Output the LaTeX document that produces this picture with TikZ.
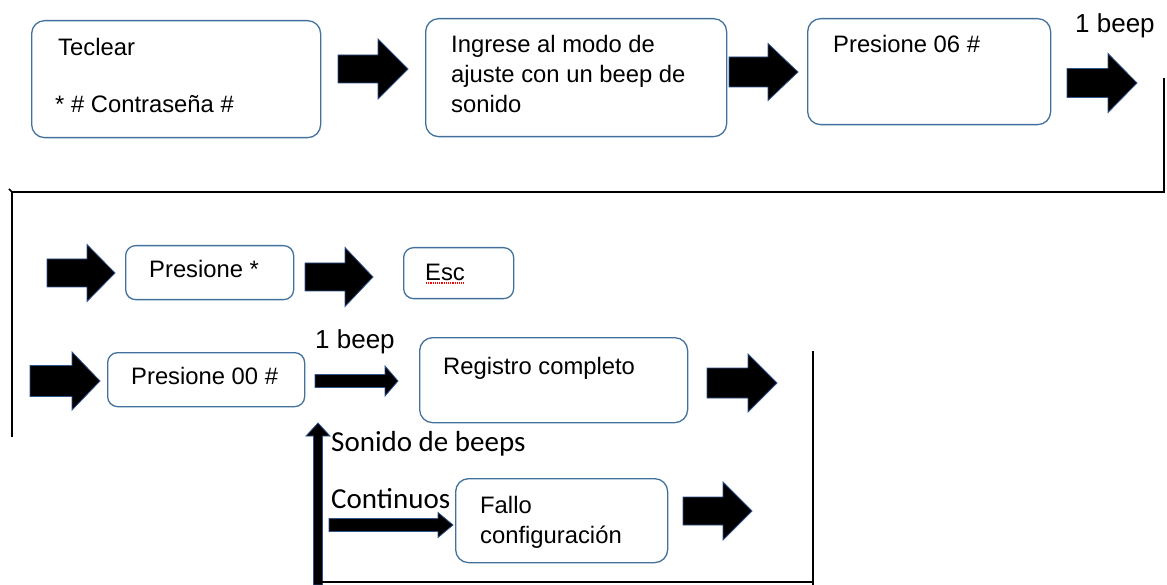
\documentclass[tikz,border=0pt]{standalone}
\usepackage{fontspec}
\setmainfont{Liberation Sans}
\newfontfamily\calib{Carlito}
\usetikzlibrary{arrows.meta}
\definecolor{boxblue}{HTML}{41719C}
\definecolor{arrowedge}{HTML}{2F528F}
\newcommand\fatarr[6]{%
  \draw[fat] (#1,#4-#5) -- (#3,#4-#5) -- (#3,#4-#6) -- (#2,#4) -- (#3,#4+#6) -- (#3,#4+#5) -- (#1,#4+#5) -- cycle;}
\tikzset{
  box/.style={draw=boxblue, line width=1.3pt, rounded corners=13pt, anchor=north west, inner sep=0pt},
  sbox/.style={box, rounded corners=10pt},
  txt/.style={anchor=base west, inner sep=0pt, font=\fontsize{23.8}{28}\selectfont},
  lbl/.style={anchor=base west, inner sep=0pt, font=\fontsize{26}{28}\selectfont},
  cal/.style={anchor=base west, inner sep=0pt, font=\calib\fontsize{29}{32}\selectfont},
  fat/.style={fill=black, draw=arrowedge, line width=0.8pt, line join=miter},
  rule/.style={line width=2.2pt, black},
}
\begin{document}
\begin{tikzpicture}[x=1pt, y=-1pt]
\fill[white] (0,0) rectangle (1167,585);
\useasboundingbox (0,0) rectangle (1167,585);

% boxes
\node[box, minimum width=289pt, minimum height=117pt] (b1) at (31,20) {};
\node[box, minimum width=301pt, minimum height=118pt] (b2) at (425,18) {};
\node[box, minimum width=243pt, minimum height=106pt] (b3) at (807,18) {};
\node[sbox, minimum width=168pt, minimum height=54pt] (b4) at (125,245) {};
\node[sbox, minimum width=110pt, minimum height=51pt] (b5) at (403,247) {};
\node[sbox, minimum width=197pt, minimum height=54pt] (b6) at (107,352) {};
\node[box, minimum width=268pt, minimum height=85pt] (b7) at (419,337) {};
\node[box, minimum width=212pt, minimum height=84pt] (b8) at (455,478) {};

% texts
\node[txt] (t1a) at (58,56) {Teclear};
\node[txt] (t1b) at (55,113) {* \# Contraseña \#};
\node[txt] (t2a) at (451,53) {Ingrese al modo de};
\node[txt] (t2b) at (451,83) {ajuste con un beep de};
\node[txt] (t2c) at (451,113) {sonido};
\node[txt] (t3) at (833,53) {Presione 06 \#};
\node[lbl] (beep1) at (1075,33) {1 beep};
\node[txt] (t4) at (149,278) {Presione *};
\node[txt] (t5) at (425,280) {Esc};
\node[lbl] (beep2) at (315,348) {1 beep};
\node[txt] (t6) at (131,384) {Presione 00 \#};
\node[txt] (t7) at (443,374) {Registro completo};
\node[cal] (son) at (331,451) {Sonido de beeps};
\node[cal] (cont) at (331,508) {Continuos};
\node[txt] (t8a) at (480,513) {Fallo};
\node[txt] (t8b) at (480,543) {configuración};
\draw[red, densely dotted, line width=1.2pt] (t5.base west) ++(1,3) -- ++(38,0);

% fat arrows
\fatarr{338}{408}{378}{69}{14}{30}
\fatarr{729}{798}{768}{72}{15}{28.5}
\fatarr{1067}{1137}{1108}{83}{14.5}{29.5}
\fatarr{47}{115}{87}{273}{14}{28.5}
\fatarr{305}{373}{345}{277}{14}{29.5}
\fatarr{30}{100}{72}{381}{15.5}{29}
\fatarr{315}{398}{385}{381}{6.5}{15}
\fatarr{329}{453}{438}{525}{6.5}{12.5}
\fatarr{707}{777}{748}{383}{15}{29}
\fatarr{683}{752}{723}{511}{14}{29}
% upward arrow
\draw[fat] (313.5,585) -- (313.5,436) -- (306,436) -- (318,423) -- (330,436) -- (322.5,436) -- (322.5,585) -- cycle;

% return lines
\coordinate (r1) at (1164,78);
\coordinate (r2) at (1164,192);
\coordinate (r3) at (12,192);
\coordinate (r4) at (12,437);
\coordinate (r0) at (9,189);
\draw[rule, line join=miter] (r1) -- (r2) -- (r3) -- (r4);
\draw[line width=1.5pt] (r0) -- (r3);
\coordinate (s1) at (813,351);
\coordinate (s2) at (813,585);
\coordinate (s3) at (813,582);
\coordinate (s4) at (322,582);
\draw[rule] (s1) -- (s2);
\draw[rule] (s3) -- (s4);
\end{tikzpicture}
\end{document}
